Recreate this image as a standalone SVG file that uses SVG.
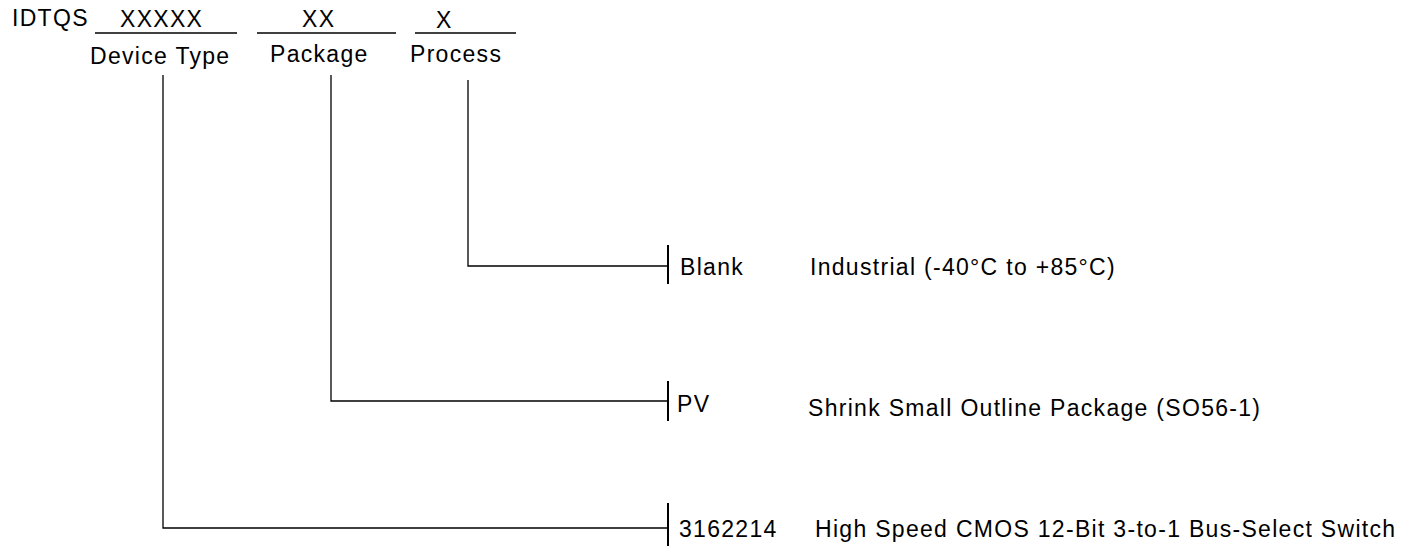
<svg xmlns="http://www.w3.org/2000/svg" width="1419" height="548" viewBox="0 0 1419 548">
<style>
text{font-family:"Liberation Sans",Arial,sans-serif;font-size:23px;letter-spacing:1.3px;fill:#000}
.ln{stroke:#000;stroke-width:1.3;fill:none}
.bar{stroke:#000;stroke-width:2;fill:none}
</style>
<rect width="1419" height="548" fill="#fff"/>
<g id="header">
<text x="12" y="26">IDTQS</text>
<text x="120" y="27">XXXXX</text>
<text x="302" y="27">XX</text>
<text x="436" y="28">X</text>
<line class="ln" x1="95" y1="33" x2="237" y2="33"/>
<line class="ln" x1="257" y1="33" x2="396" y2="33"/>
<line class="ln" x1="415" y1="33" x2="516" y2="33"/>
<text x="90" y="64">Device Type</text>
<text x="270" y="62">Package</text>
<text x="410" y="62">Process</text>
</g>
<g id="connectors">
<polyline class="ln" points="163,75 163,528 668,528"/>
<polyline class="ln" points="331,75 331,401 668,401"/>
<polyline class="ln" points="468,80 468,266 668,266"/>
</g>
<g id="node-process">
<line class="bar" x1="668" y1="245" x2="668" y2="284"/>
<text x="680" y="275">Blank</text>
<text x="810" y="275">Industrial (-40°C to +85°C)</text>
</g>
<g id="node-package">
<line class="bar" x1="668" y1="381" x2="668" y2="421"/>
<text x="677" y="412">PV</text>
<text x="808" y="416">Shrink Small Outline Package (SO56-1)</text>
</g>
<g id="node-device">
<line class="bar" x1="668" y1="503" x2="668" y2="546"/>
<text x="679" y="537">3162214</text>
<text x="815" y="537" letter-spacing="1.45">High Speed CMOS 12-Bit 3-to-1 Bus-Select Switch</text>
</g>
</svg>
